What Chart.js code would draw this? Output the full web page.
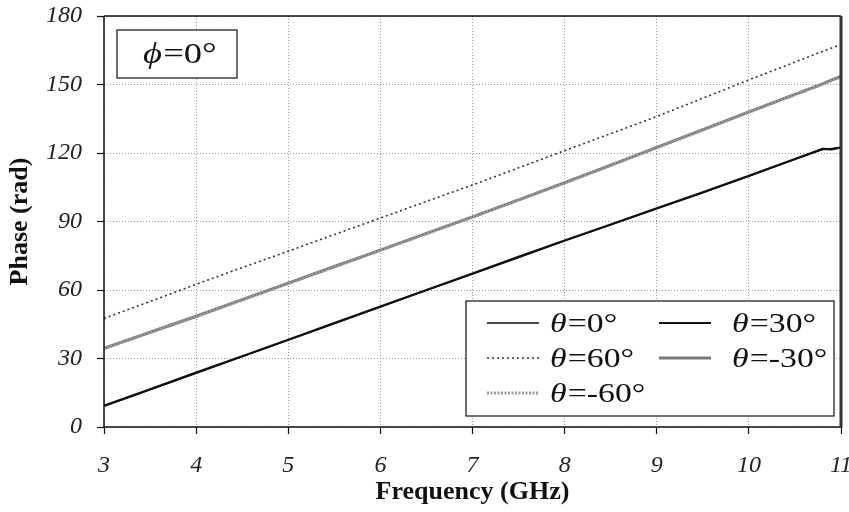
<!DOCTYPE html>
<html><head><meta charset="utf-8">
<script src="https://cdn.jsdelivr.net/npm/chart.js@4.4.0/dist/chart.umd.min.js"></script>
<style>html,body{margin:0;padding:0;background:#fff;}#wrap{width:849px;height:512px;position:relative;}</style>
</head><body><div id="wrap"><canvas id="c"></canvas></div>
<script>
// Frequency samples (GHz)
const frequency = [3, 3.5, 4, 4.5, 5, 5.5, 6, 6.5, 7, 7.5, 8, 8.5, 9, 9.5, 10, 10.5, 10.8, 10.9, 11];
// Phase (rad) per theta
const theta0   = [9, 16.3, 23.5, 30.8, 38, 45.3, 52.5, 59.8, 67, 74.2, 81.5, 88.5, 95.5, 102.5, 109.8, 117.2, 121.5, 122, 122.3];
const theta30  = [9.3, 16.5, 23.8, 31, 38.2, 45.5, 52.8, 60, 67.2, 74.5, 81.7, 88.7, 95.8, 102.8, 110, 117.4, 121.8, 121.6, 122.5];
const theta60  = [47.5, 55, 62.5, 69.8, 77, 84.3, 91.5, 98.8, 106, 113.5, 121, 128.5, 136, 144, 152, 159.8, 164.5, 166, 167.5];
const thetaM30 = [34.5, 41.5, 48.5, 55.8, 63, 70.3, 77.5, 84.8, 92, 99.5, 107, 114.7, 122.5, 130.2, 138, 145.7, 150.3, 152, 153.5];
const thetaM60 = [34.3, 41.4, 48.3, 55.6, 62.8, 70.1, 77.4, 84.6, 91.9, 99.4, 106.8, 114.5, 122.3, 130, 137.8, 145.5, 150.1, 151.8, 153.3];
const seriesLabels = ['=0°', '=30°', '=60°', '=-30°', '=-60°'];
const xTicks = [3, 4, 5, 6, 7, 8, 9, 10, 11];
const yTicks = [0, 30, 60, 90, 120, 150, 180];
const annotationText = '=0°';

const pts = arr => frequency.map((f, i) => ({x: f, y: arr[i]}));
const SERIF = "'Liberation Serif', 'Times New Roman', serif";

const datasets = [
  {label: seriesLabels[0], data: pts(theta0),   borderColor: '#111', borderWidth: 1.3, order: 1},
  {label: seriesLabels[1], data: pts(theta30),  borderColor: '#111', borderWidth: 2.2, order: 2},
  {label: seriesLabels[2], data: pts(theta60),  borderColor: '#333', borderWidth: 1.6, borderDash: [2, 3], order: 3},
  {label: seriesLabels[3], data: pts(thetaM30), borderColor: '#7a7a7a', borderWidth: 3, order: 5},
  {label: seriesLabels[4], data: pts(thetaM60), borderColor: '#9a9a9a', borderWidth: 3, borderDash: [2, 1.5], order: 4}
];

function drawSymbolText(ctx, x, y, sym, rest, size, sx) {
  ctx.save();
  ctx.translate(x, y);
  ctx.scale(sx, 1);
  ctx.fillStyle = '#111';
  ctx.textBaseline = 'middle';
  ctx.textAlign = 'left';
  ctx.font = 'italic ' + size + 'px ' + SERIF;
  ctx.fillText(sym, 0, 0);
  const w = ctx.measureText(sym).width;
  ctx.font = size + 'px ' + SERIF;
  ctx.fillText(rest, w + 1, 0);
  ctx.restore();
}

const framePlugin = {
  id: 'frame',
  afterDraw(chart) {
    const {ctx, chartArea: a} = chart;
    ctx.save();
    ctx.strokeStyle = '#111';
    ctx.lineWidth = 1.5;
    ctx.beginPath();
    ctx.moveTo(a.left, a.top); ctx.lineTo(a.right, a.top);
    ctx.moveTo(a.left, a.top); ctx.lineTo(a.left, a.bottom);
    ctx.moveTo(a.left, a.bottom); ctx.lineTo(a.right, a.bottom);
    ctx.stroke();
    ctx.lineWidth = 3;
    ctx.strokeStyle = '#333';
    ctx.beginPath();
    ctx.moveTo(a.right, a.top); ctx.lineTo(a.right, a.bottom);
    ctx.stroke();

    // phi annotation box
    const bx = a.left + 13, by = a.top + 14, bw = 120, bh = 48;
    ctx.fillStyle = '#fff';
    ctx.fillRect(bx, by, bw, bh);
    ctx.lineWidth = 1.3;
    ctx.strokeStyle = '#222';
    ctx.strokeRect(bx, by, bw, bh);
    drawSymbolText(ctx, bx + 26, by + bh / 2 + 1, 'ϕ', annotationText, 30, 1.22);

    // legend box
    const lx = a.right - 375, ly = a.bottom - 126, lw = 368, lh = 115;
    ctx.fillStyle = '#fff';
    ctx.fillRect(lx, ly, lw, lh);
    ctx.lineWidth = 1.3;
    ctx.strokeStyle = '#222';
    ctx.strokeRect(lx, ly, lw, lh);
    const slots = [
      {ds: 0, col: 0, row: 0}, {ds: 1, col: 1, row: 0},
      {ds: 2, col: 0, row: 1}, {ds: 3, col: 1, row: 1},
      {ds: 4, col: 0, row: 2}
    ];
    slots.forEach(s => {
      const d = chart.data.datasets[s.ds];
      const x0 = lx + (s.col ? 193 : 21);
      const tx = lx + (s.col ? 266 : 84);
      const y0 = ly + 22 + s.row * 35;
      ctx.save();
      ctx.strokeStyle = d.borderColor;
      ctx.lineWidth = d.borderWidth;
      ctx.setLineDash(d.borderDash || []);
      ctx.beginPath();
      ctx.moveTo(x0, y0); ctx.lineTo(x0 + 52, y0);
      ctx.stroke();
      ctx.restore();
      drawSymbolText(ctx, tx, y0 + 2, 'θ', d.label, 27, 1.25);
    });
    ctx.restore();
  }
};

new Chart(document.getElementById('c'), {
  type: 'line',
  data: {datasets},
  options: {
    responsive: true,
    maintainAspectRatio: false,
    animation: false,
    layout: {padding: {top: 16, right: 8, left: 0, bottom: 0}},
    elements: {point: {radius: 0}, line: {tension: 0}},
    plugins: {legend: {display: false}, tooltip: {enabled: false}},
    scales: {
      x: {
        type: 'linear', min: 3, max: 11,
        afterBuildTicks: s => { s.ticks = xTicks.map(v => ({value: v})); },
        afterFit: s => { s.height = 85; s.paddingLeft = 0; s.paddingRight = 0; },
        grid: {color: '#9a9a9a', lineWidth: 1, tickLength: 7, tickColor: '#111', tickWidth: 1.2, tickBorderDash: []},
        border: {display: false, dash: [1, 2]},
        ticks: {font: {family: SERIF, size: 24, style: 'italic'}, color: '#222', padding: 17, maxRotation: 0},
        title: {display: true, text: 'Frequency (GHz)', font: {family: SERIF, size: 26, weight: 'bold'}, color: '#111', padding: {top: 0, bottom: 4}}
      },
      y: {
        min: 0, max: 180,
        afterBuildTicks: s => { s.ticks = yTicks.map(v => ({value: v})); },
        afterFit: s => { s.width = 104; s.paddingTop = 0; s.paddingBottom = 0; },
        grid: {color: '#9a9a9a', lineWidth: 1, tickLength: 7, tickColor: '#111', tickWidth: 1.2, tickBorderDash: []},
        border: {display: false, dash: [1, 2]},
        ticks: {font: {family: SERIF, size: 24, style: 'italic'}, color: '#222', padding: 15},
        title: {display: true, text: 'Phase (rad)', font: {family: SERIF, size: 26, weight: 'bold'}, color: '#111', padding: {top: 5, bottom: 0}}
      }
    }
  },
  plugins: [framePlugin]
});
</script></body></html>
